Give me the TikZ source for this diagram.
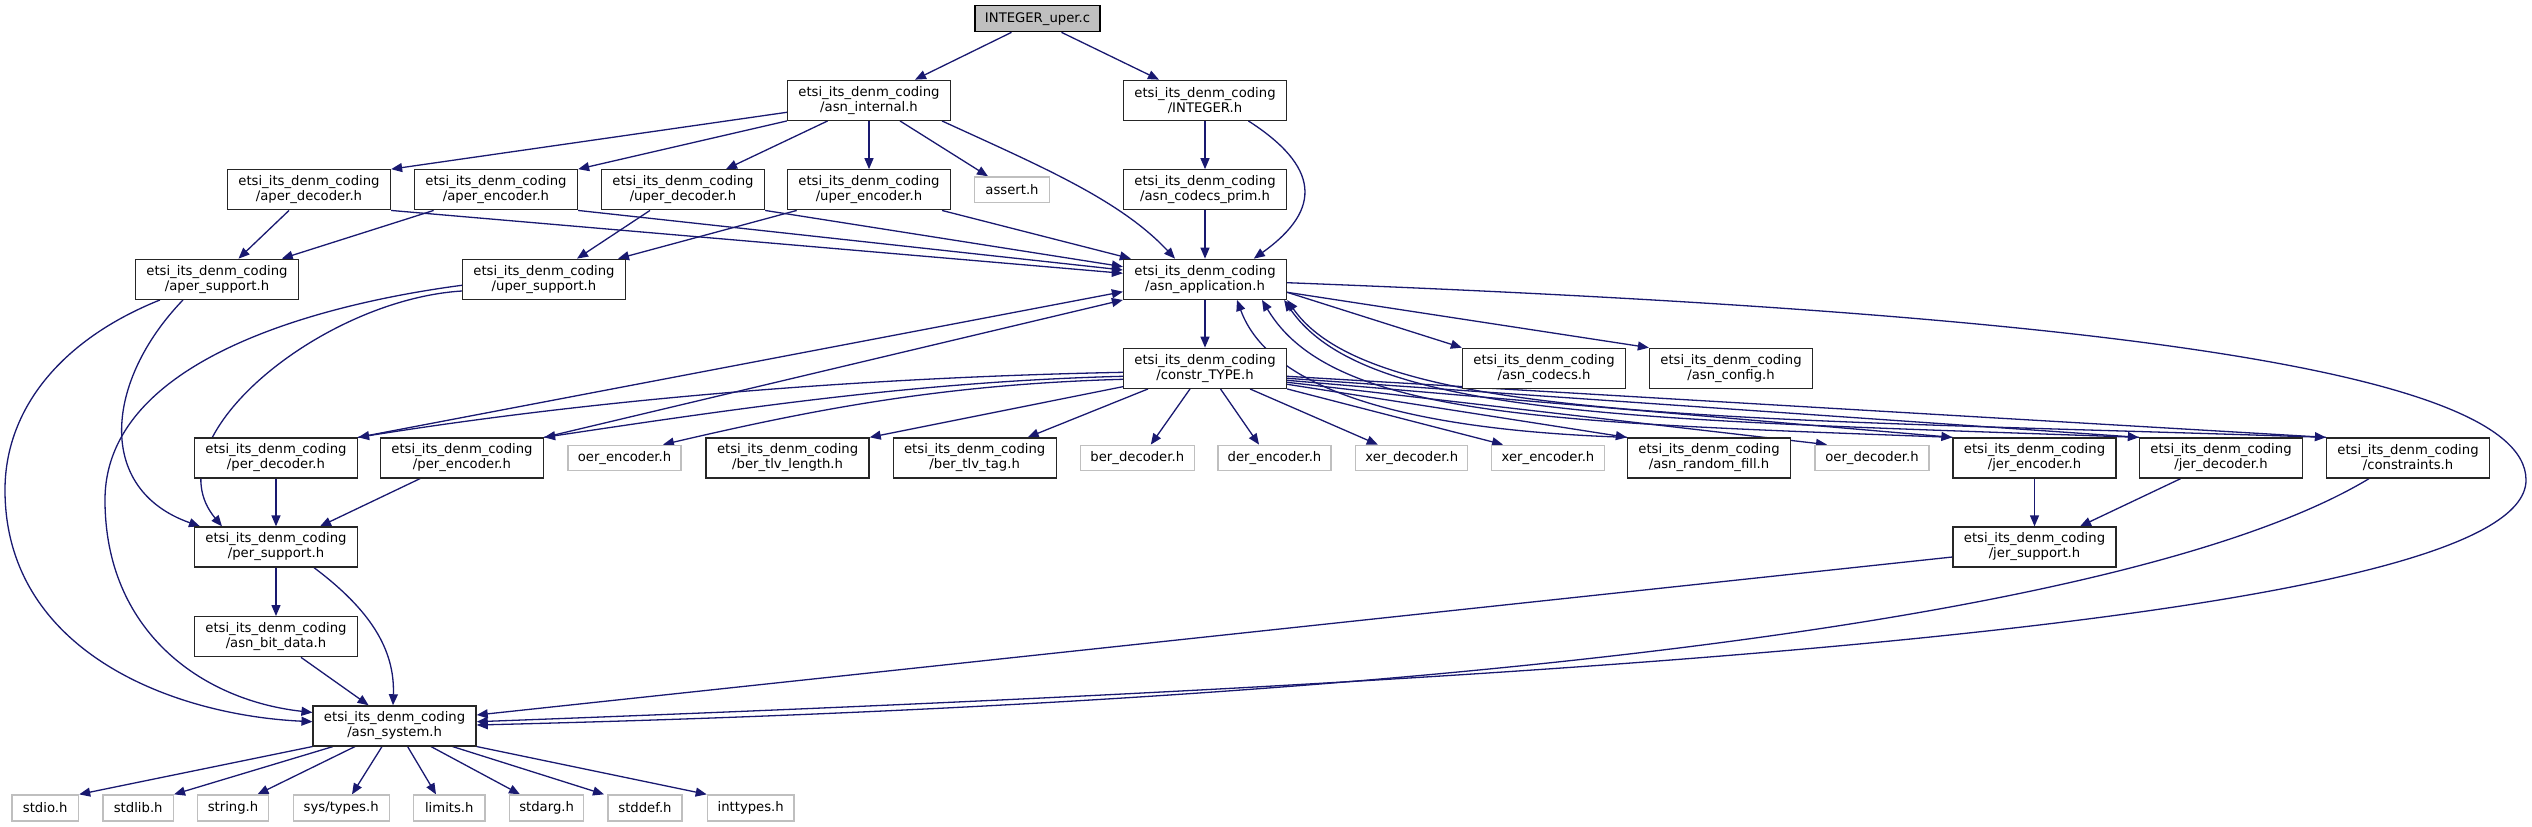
\documentclass[tikz,border=0pt]{standalone}
\usepackage{fontspec}
\setmainfont{DejaVu Sans}
\usetikzlibrary{arrows.meta,calc}
\definecolor{edgec}{HTML}{191970}
\definecolor{gdark}{HTML}{262626}
\definecolor{glight}{HTML}{BFBFBF}
\pgfdeclarelayer{bg}
\pgfsetlayers{bg,main}
\begin{document}
\begin{tikzpicture}[x=1pt,y=-1pt,
 every node/.style={font=\fontsize{13.2}{15}\selectfont, inner sep=0pt, align=center},
 filebox/.style={draw=gdark, line width=1.3pt, fill=white, minimum width=163pt, minimum height=40pt},
 sysbox/.style={draw=glight, line width=1.3pt, fill=white, minimum height=25.5pt},
 titlebox/.style={draw=black, line width=1.3pt, fill=glight, minimum width=125pt, minimum height=26pt},
 dep/.style={draw=edgec, line width=1.3pt, -{Triangle[length=11pt,width=9pt]}}
]
\useasboundingbox (0,0) rectangle (2532,827);
% nodes
\node[titlebox] (title) at (1037.5,18.7) {INTEGER\_uper.c};
\node[filebox] (asnint) at (869,100.3) {etsi\_its\_denm\_coding\\/asn\_internal.h};
\node[filebox] (integer) at (1205,100.3) {etsi\_its\_denm\_coding\\/INTEGER.h};
\node[filebox] (aperdec) at (309,189.8) {etsi\_its\_denm\_coding\\/aper\_decoder.h};
\node[filebox] (aperenc) at (496,189.8) {etsi\_its\_denm\_coding\\/aper\_encoder.h};
\node[filebox] (uperdec) at (683,189.8) {etsi\_its\_denm\_coding\\/uper\_decoder.h};
\node[filebox] (uperenc) at (869,189.8) {etsi\_its\_denm\_coding\\/uper\_encoder.h};
\node[sysbox, minimum width=75pt] (assert) at (1012,189.7) {assert.h};
\node[filebox] (codecsprim) at (1205,189.8) {etsi\_its\_denm\_coding\\/asn\_codecs\_prim.h};
\node[filebox] (apersup) at (217,279.3) {etsi\_its\_denm\_coding\\/aper\_support.h};
\node[filebox] (upersup) at (544,279.3) {etsi\_its\_denm\_coding\\/uper\_support.h};
\node[filebox] (app) at (1205,279.3) {etsi\_its\_denm\_coding\\/asn\_application.h};
\node[filebox] (constr) at (1205,368.3) {etsi\_its\_denm\_coding\\/constr\_TYPE.h};
\node[filebox] (codecs) at (1544,368.3) {etsi\_its\_denm\_coding\\/asn\_codecs.h};
\node[filebox] (config) at (1731,368.3) {etsi\_its\_denm\_coding\\/asn\_config.h};
\node[filebox] (perdec) at (276,458) {etsi\_its\_denm\_coding\\/per\_decoder.h};
\node[filebox] (perenc) at (462,458) {etsi\_its\_denm\_coding\\/per\_encoder.h};
\node[sysbox, minimum width=113pt] (oerenc) at (624.5,458) {oer\_encoder.h};
\node[filebox] (bertlvlen) at (787.6,458) {etsi\_its\_denm\_coding\\/ber\_tlv\_length.h};
\node[filebox] (bertlvtag) at (974.7,458) {etsi\_its\_denm\_coding\\/ber\_tlv\_tag.h};
\node[sysbox, minimum width=114pt] (berdec) at (1137.3,458) {ber\_decoder.h};
\node[sysbox, minimum width=113pt] (derenc) at (1274.5,458) {der\_encoder.h};
\node[sysbox, minimum width=112pt] (xerdec) at (1411.8,458) {xer\_decoder.h};
\node[sysbox, minimum width=113pt] (xerenc) at (1548,458) {xer\_encoder.h};
\node[filebox] (randfill) at (1709,458) {etsi\_its\_denm\_coding\\/asn\_random\_fill.h};
\node[sysbox, minimum width=114pt] (oerdec) at (1872,458) {oer\_decoder.h};
\node[filebox] (jerenc) at (2034.5,458) {etsi\_its\_denm\_coding\\/jer\_encoder.h};
\node[filebox] (jerdec) at (2221,458) {etsi\_its\_denm\_coding\\/jer\_decoder.h};
\node[filebox] (constraints) at (2408,458) {etsi\_its\_denm\_coding\\/constraints.h};
\node[filebox] (persup) at (276,547) {etsi\_its\_denm\_coding\\/per\_support.h};
\node[filebox] (jersup) at (2034.5,547) {etsi\_its\_denm\_coding\\/jer\_support.h};
\node[filebox] (bitdata) at (276,636.7) {etsi\_its\_denm\_coding\\/asn\_bit\_data.h};
\node[filebox] (system) at (394.6,725.9) {etsi\_its\_denm\_coding\\/asn\_system.h};
\node[sysbox, minimum width=66.7pt, minimum height=26pt] (stdio) at (45.2,808) {stdio.h};
\node[sysbox, minimum width=70.4pt, minimum height=26pt] (stdlib) at (138.2,808) {stdlib.h};
\node[sysbox, minimum width=70.5pt, minimum height=26pt] (string) at (233,808) {string.h};
\node[sysbox, minimum width=96pt, minimum height=26pt] (systypes) at (341.2,808) {sys/types.h};
\node[sysbox, minimum width=71.5pt, minimum height=26pt] (limits) at (449.3,808) {limits.h};
\node[sysbox, minimum width=74pt, minimum height=26pt] (stdarg) at (546.6,808) {stdarg.h};
\node[sysbox, minimum width=74pt, minimum height=26pt] (stddef) at (645,808) {stddef.h};
\node[sysbox, minimum width=86.7pt, minimum height=26pt] (inttypes) at (750.7,808) {inttypes.h};
\coordinate (rw) at (2526,480);
\coordinate (lw1) at (5,490);
\coordinate (lw2) at (105,500);
% edges
\begin{pgfonlayer}{bg}
\draw[dep] ($(title.south)+(-26,0)$) -- ($(asnint.north)+(46,0)$);
\draw[dep] ($(title.south)+(24,0)$) -- ($(integer.north)+(-46,0)$);
\draw[dep] ($(asnint.south)+(73,0)$) .. controls +(98,45) and +(-55,-59) .. ($(app.north)+(-30,0)$);
\draw[dep] ($(asnint.west)+(0,12)$) -- (aperdec.north east);
\draw[dep] (asnint.south west) -- (aperenc.north east);
\draw[dep] ($(asnint.south)+(-41.4,0)$) -- ($(uperdec.north)+(43,0)$);
\draw[dep] (asnint.south) -- (uperenc.north);
\draw[dep] ($(asnint.south)+(31,0)$) -- ($(assert.north)+(-24,0)$);
\draw[dep] (integer.south) -- (codecsprim.north);
\draw[dep] ($(integer.south)+(43.4,0)$) .. controls +(70,45) and +(70,-50) .. ($(app.north)+(48.8,0)$);
\draw[dep] (codecsprim.south) -- (app.north);
\draw[dep] ($(uperenc.south)+(73,0)$) -- ($(app.north west)+(8,0)$);
\draw[dep] (uperdec.south east) -- ($(app.west)+(0,-12.6)$);
\draw[dep] (aperenc.south east) -- ($(app.west)+(0,-9.3)$);
\draw[dep] (aperdec.south east) -- ($(app.west)+(0,-6)$);
\draw[dep] ($(aperdec.south)+(-20,0)$) -- ($(apersup.north)+(21.5,0)$);
\draw[dep] ($(aperenc.south)+(-62.4,0)$) -- ($(apersup.north)+(64.8,0)$);
\draw[dep] ($(uperdec.south)+(-33,0)$) -- ($(upersup.north)+(33,0)$);
\draw[dep] ($(uperenc.south)+(-72.3,0)$) -- ($(upersup.north)+(74,0)$);
\draw[dep] ($(apersup.south)+(-34,0)$) .. controls +(-78,81) and +(-105,-37) .. ($(persup.north)+(-76,0)$);
\draw[dep] ($(apersup.south)+(-57,0)$) .. controls (60,340) and (5,410) .. (lw1) .. controls (5,650) and (170,715) .. ($(system.west)+(0,-4.2)$);
\draw[dep] ($(upersup.west)+(0,6)$) .. controls (350,300) and (105,350) .. (lw2) .. controls (105,630) and (200,700) .. ($(system.west)+(0,-13.4)$);
\draw[dep] ($(upersup.west)+(0,11.7)$) .. controls (320,300) and (150,440) .. ($(persup.north)+(-54,0)$);
\draw[dep] (app.south) -- (constr.north);
\draw[dep] ($(app.east)+(0,13)$) -- (codecs.north west);
\draw[dep] ($(app.east)+(0,13)$) -- (config.north west);
\draw[dep] ($(app.east)+(0,3.4)$) .. controls (2000,310) and (2526,360) .. (rw) .. controls (2526,620) and (1600,680) .. ($(system.east)+(0,-4.2)$);
\draw[dep] ($(constr.west)+(0,4)$) .. controls +(-250,5) and +(250,-40) .. (perdec.north east);
\draw[dep] ($(constr.west)+(0,8)$) .. controls +(-200,5) and +(200,-30) .. (perenc.north east);
\draw[dep] ($(constr.west)+(0,11)$) .. controls +(-180,5) and +(150,-35) .. ($(oerenc.north)+(38.5,0)$);
\draw[dep] ($(constr.west)+(0,18.4)$) -- (bertlvlen.north east);
\draw[dep] ($(constr.south)+(-57,0)$) -- ($(bertlvtag.north)+(53,0)$);
\draw[dep] ($(constr.south)+(-15,0)$) -- ($(berdec.north)+(13.5,0)$);
\draw[dep] ($(constr.south)+(15.5,0)$) -- ($(derenc.north)+(-15.5,0)$);
\draw[dep] ($(constr.south)+(45,0)$) -- ($(xerdec.north)+(-34,0)$);
\draw[dep] (constr.south east) -- ($(xerenc.north)+(-45,0)$);
\draw[dep] ($(constr.east)+(0,16)$) -- (randfill.north west);
\draw[dep] ($(constr.east)+(0,14)$) -- ($(oerdec.north)+(-45,0)$);
\draw[dep] ($(constr.east)+(0,12)$) -- (jerenc.north west);
\draw[dep] ($(constr.east)+(0,10)$) -- (jerdec.north west);
\draw[dep] ($(constr.east)+(0,8)$) -- (constraints.north west);
\draw[dep] (perdec.north east) -- ($(app.west)+(0,12.4)$);
\draw[dep] (perenc.north east) -- (app.south west);
\draw[dep] (randfill.north west) .. controls +(-150,-5) and +(40,110) .. ($(app.south)+(32,0)$);
\draw[dep] (jerenc.north west) .. controls +(-400,-15) and +(70,118) .. ($(app.south)+(57,0)$);
\draw[dep] (jerdec.north west) .. controls +(-500,-18) and +(80,118) .. ($(app.south east)+(-3,0)$);
\draw[dep] (constraints.north west) .. controls +(-600,-20) and +(85,122) .. (app.south east);
\draw[dep] (perdec.south) -- (persup.north);
\draw[dep] ($(perenc.south)+(-42,0)$) -- ($(persup.north)+(44,0)$);
\draw[dep] (persup.south) -- (bitdata.north);
\draw[dep] ($(persup.south)+(38,0)$) .. controls +(56,42) and +(2,-56) .. ($(system.north)+(-1.6,0)$);
\draw[dep] ($(bitdata.south)+(25,0)$) -- ($(system.north)+(-26,0)$);
\draw[dep] (jerenc.south) -- (jersup.north);
\draw[dep] ($(jerdec.south)+(-40.4,0)$) -- ($(jersup.north)+(45.5,0)$);
\draw[dep] ($(jersup.west)+(0,10)$) -- ($(system.east)+(0,-10.9)$);
\draw[dep] ($(constraints.south)+(-39,0)$) .. controls +(-219,132) and +(1024,-25) .. ($(system.east)+(0,-0.9)$);
\draw[dep] (system.south west) -- (stdio.north east);
\draw[dep] ($(system.south)+(-61.6,0)$) -- (stdlib.north east);
\draw[dep] ($(system.south)+(-39.6,0)$) -- ($(string.north)+(24.5,0)$);
\draw[dep] ($(system.south)+(-12.6,0)$) -- ($(systypes.north)+(10.8,0)$);
\draw[dep] ($(system.south)+(13,0)$) -- ($(limits.north)+(-13.3,0)$);
\draw[dep] ($(system.south)+(36.4,0)$) -- ($(stdarg.north)+(-26.6,0)$);
\draw[dep] ($(system.south)+(58,0)$) -- ($(stddef.north)+(-41,0)$);
\draw[dep] (system.south east) -- (inttypes.north west);
\end{pgfonlayer}
\end{tikzpicture}
\end{document}
